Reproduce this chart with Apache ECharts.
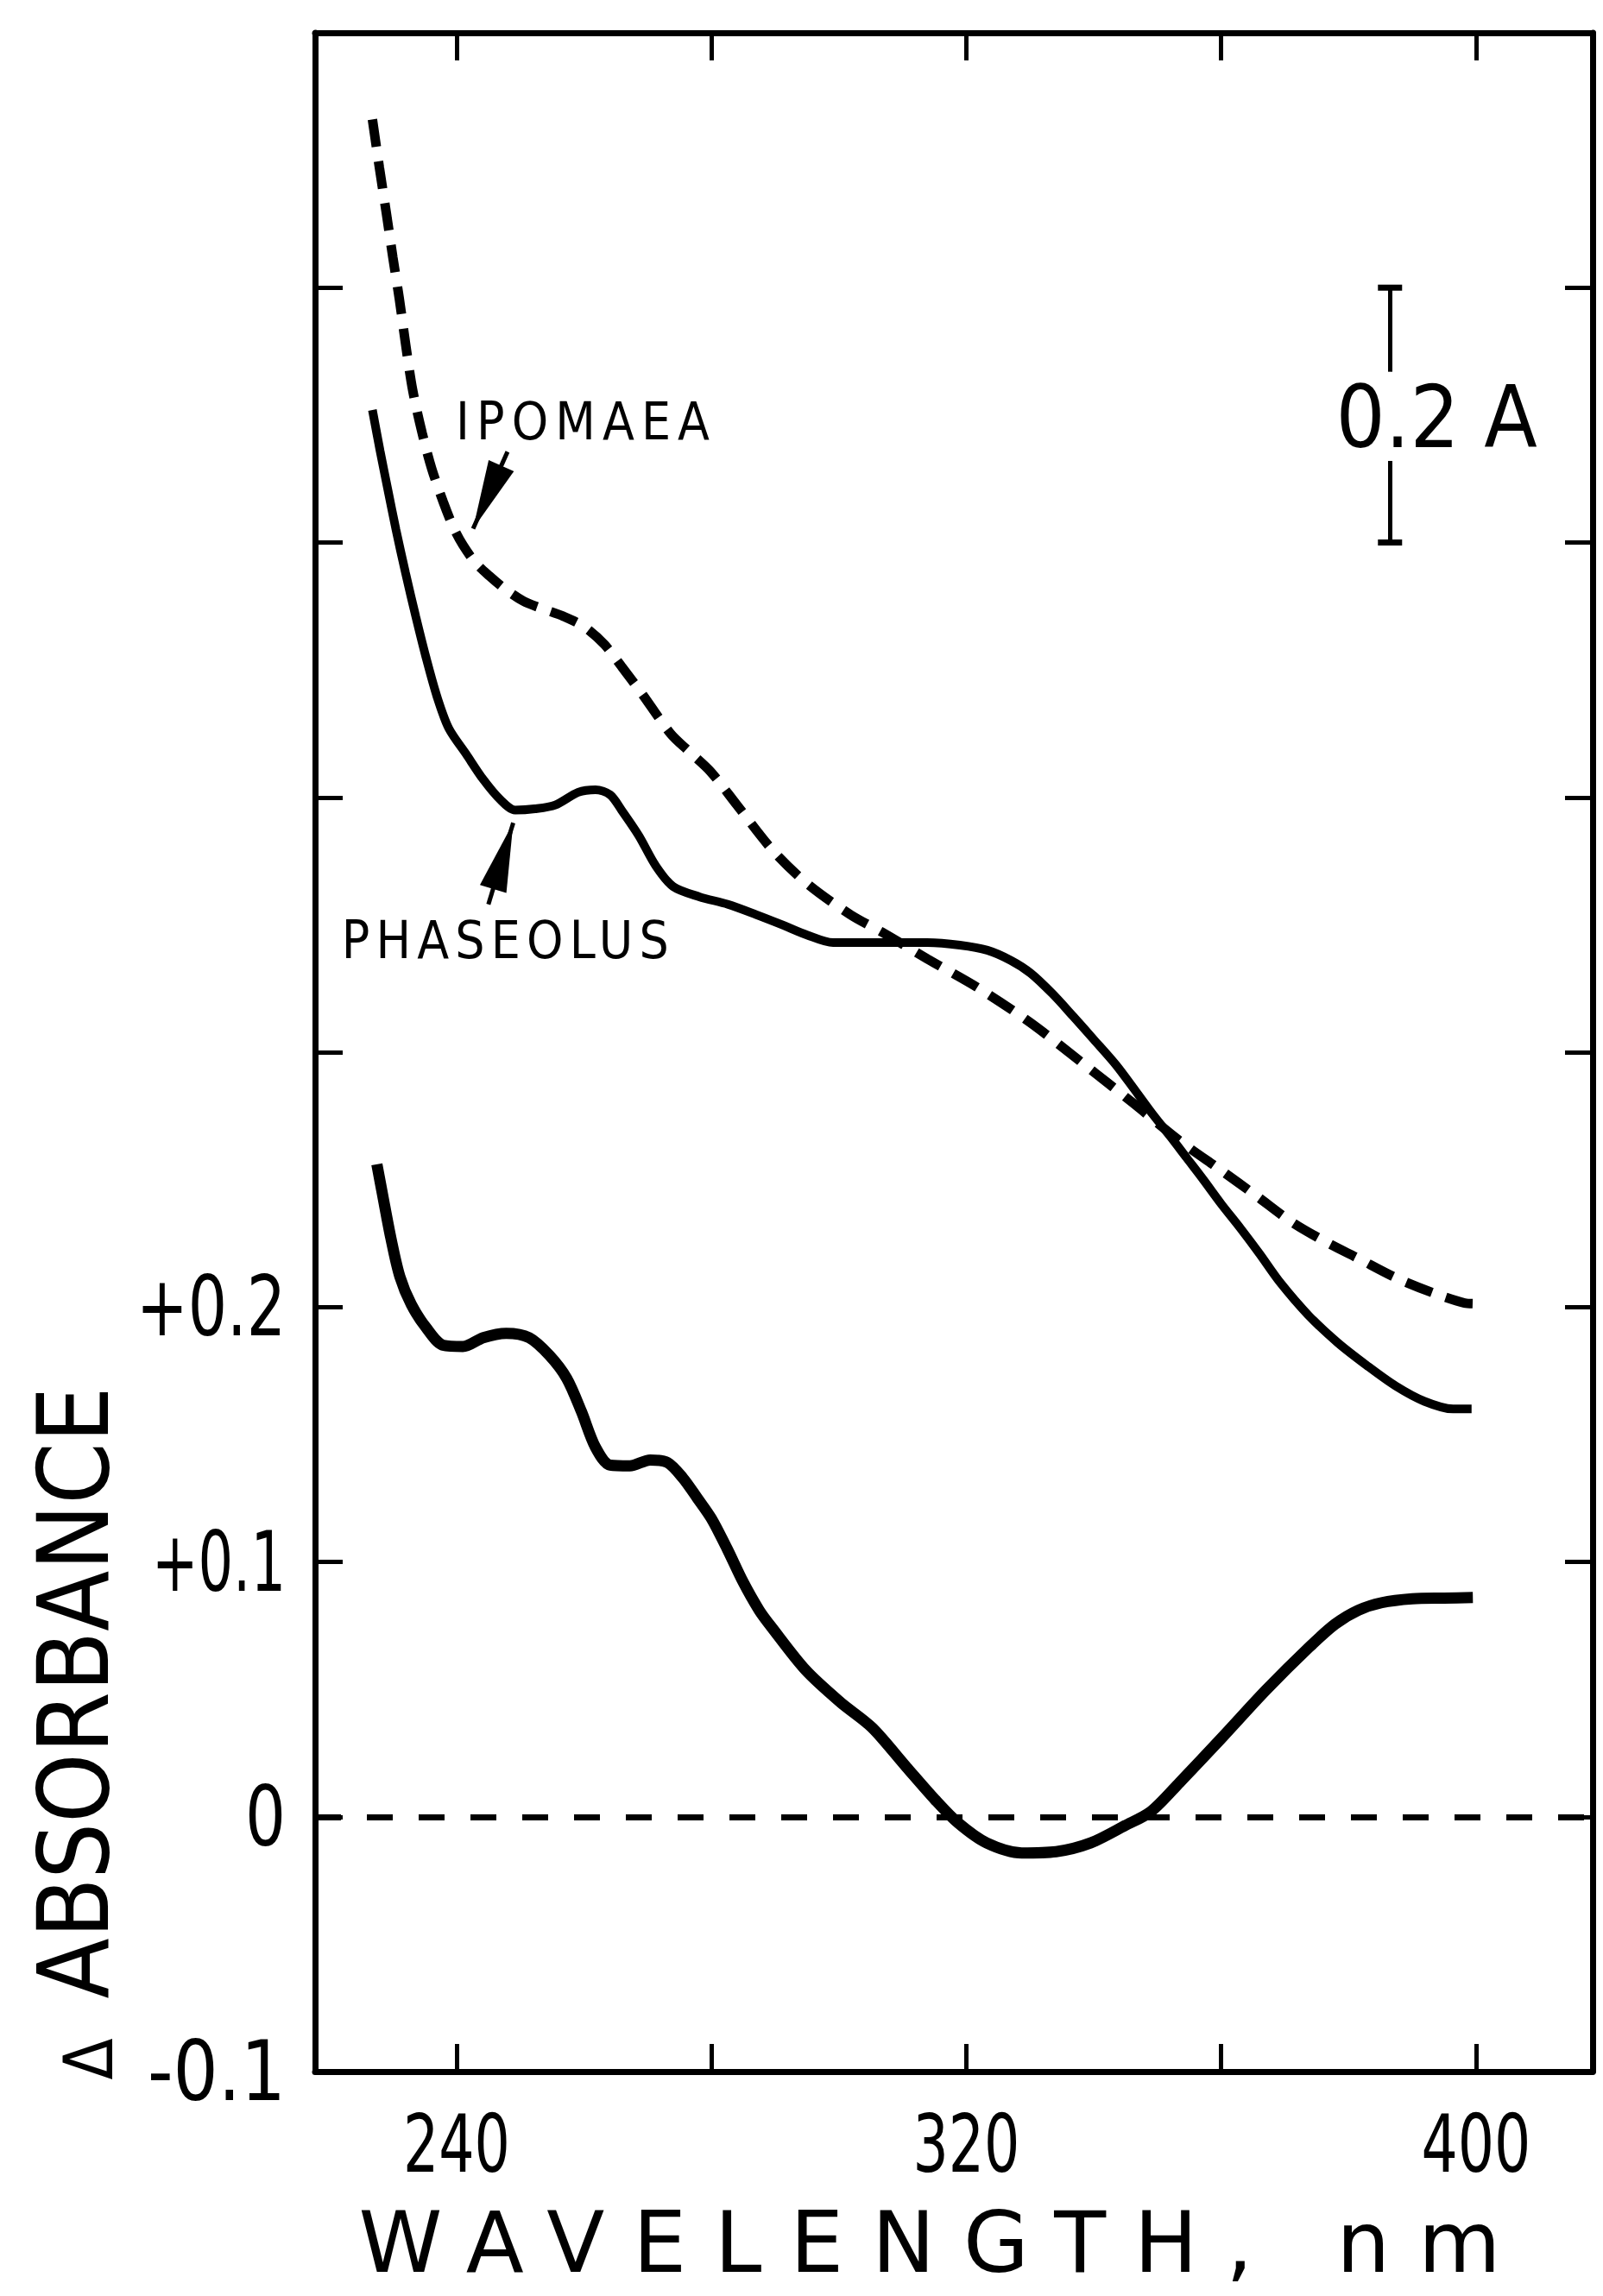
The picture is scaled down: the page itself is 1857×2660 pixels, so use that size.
<!DOCTYPE html>
<html>
<head>
<meta charset="utf-8">
<script src="https://cdn.jsdelivr.net/npm/echarts@6/dist/echarts.min.js"></script>
<style>
html, body { margin: 0; padding: 0; background: #ffffff; }
#chart { width: 1857px; height: 2660px; }
</style>
</head>
<body>
<div id="chart"></div>
<script>
// ---- tick values / labels ----
const xTickValues = [240, 280, 320, 360, 400];
const xLabelValues = [240, 320, 400];
const yLabelValues = [-0.1, 0, 0.1, 0.2];
const yLabelTexts = ['-0.1', '0', '+0.1', '+0.2'];
const xTitle = 'WAVELENGTH, nm';
const yTitle = 'ABSORBANCE';

// ---- series values: [wavelength nm, absorbance (plot units)] ----
const ipomaea = [
  [226.8,0.666],[227.9,0.647],[229.0,0.629],[230.0,0.612],[231.0,0.596],[232.0,0.578],
  [233.1,0.560],[234.6,0.543],[236.1,0.529],[237.9,0.516],[239.5,0.506],[241.0,0.499],
  [243.0,0.492],[245.1,0.487],[247.5,0.482],[250.5,0.477],[253.5,0.474],[256.8,0.471],
  [260.0,0.467],[263.2,0.460],[266.0,0.451],[269.0,0.441],[273.6,0.425],[276.5,0.418],
  [279.9,0.410],[284.0,0.397],[289.7,0.379],[295.1,0.366],[301.8,0.354],[307.2,0.3465],
  [313.9,0.3366],[322.0,0.325],[330.1,0.3115],[338.1,0.296],[346.2,0.280],[353.6,0.265],
  [359.9,0.2538],[365.5,0.2437],[371.0,0.2335],[376.4,0.2256],[381.5,0.2191],[387.4,0.2115],
  [393.3,0.2055],[398.2,0.2016],[400.0,0.2013]
];
const phaseolus = [
  [226.8,0.552],[228.0,0.536],[229.2,0.521],[230.5,0.505],[232.0,0.488],[233.6,0.471],
  [235.2,0.455],[237.0,0.439],[238.8,0.427],[241.5,0.417],[244.2,0.407],[246.9,0.399],
  [249.2,0.395],[252.3,0.3955],[255.5,0.397],[259.1,0.402],[261.8,0.403],[264.1,0.401],
  [265.9,0.395],[268.6,0.385],[271.3,0.373],[274.0,0.365],[278.1,0.361],[282.6,0.358],
  [287.0,0.354],[291.1,0.350],[295.0,0.346],[299.1,0.343],[306.0,0.343],[313.9,0.343],
  [319.0,0.342],[323.3,0.340],[327.0,0.336],[330.1,0.331],[333.5,0.323],[336.8,0.314],
  [340.0,0.305],[343.5,0.295],[346.5,0.285],[349.3,0.2755],[352.0,0.267],[354.6,0.2585],
  [357.2,0.250],[360.0,0.2405],[363.0,0.231],[366.0,0.221],[369.3,0.2095],[373.8,0.1965],
  [378.3,0.186],[382.9,0.177],[387.4,0.169],[391.9,0.163],[396.4,0.160],[399.3,0.160]
];
const difference = [
  [227.5,0.256],[228.4,0.244],[229.7,0.227],[231.1,0.212],[232.9,0.201],[235.2,0.192],
  [237.9,0.185],[241.0,0.1845],[244.2,0.188],[247.8,0.1897],[251.4,0.188],[254.6,0.181],
  [257.3,0.172],[259.6,0.159],[261.8,0.145],[264.1,0.138],[267.2,0.1377],[270.4,0.140],
  [273.1,0.139],[275.5,0.133],[277.8,0.125],[280.0,0.117],[282.5,0.105],[285.0,0.092],
  [287.5,0.081],[289.4,0.0745],[294.8,0.0575],[300.2,0.045],[305.2,0.035],[310.6,0.0195],
  [315.1,0.0067],[318.7,-0.0024],[323.2,-0.0103],[328.7,-0.0142],[334.1,-0.0137],[339.5,-0.0103],
  [344.9,-0.0035],[349.0,0.0021],[353.5,0.0135],[360.3,0.0315],[367.0,0.0496],[373.8,0.0665],
  [377.9,0.0756],[381.5,0.081],[385.2,0.084],[390.0,0.0855],[395.0,0.0858],[399.5,0.086]
];

// ---- annotation anchors (data coordinates) ----
const ipomaeaLabelAt = [259.8, 0.5475];
const phaseolusLabelAt = [247.65, 0.3439];
const ipomaeaArrow = [[248.0, 0.5356], [242.6, 0.5054]];
const phaseolusArrow = [[245.0, 0.358], [248.9, 0.390]];
const scaleBarX = 386.5;
const scaleBarEnds = [0.6, 0.567, 0.532, 0.5];
const scaleLabelAt = [393.8, 0.549];

const X_MIN = 217.8, X_MAX = 418.3, Y_MIN = -0.1, Y_MAX = 0.7;

// ---- text fitting (rendered widths, px) ----
const textFit = {
  'WAVELENGTH, nm': [1323, 'spacing'],
  'IPOMAEA': [294, 'spacing'],
  'PHASEOLUS': [379, 'spacing'],
  '240': [124, 'spacingAndGlyphs'],
  '320': [124, 'spacingAndGlyphs'],
  '400': [127, 'spacingAndGlyphs'],
  '+0.2': [173, 'spacingAndGlyphs'],
  '+0.1': [155, 'spacingAndGlyphs'],
  '0': [47, 'spacingAndGlyphs'],
  '-0.1': [160, 'spacingAndGlyphs']
};
const TITLE_BOTTOM = 2655;

const black = '#000000';
const labelFont = "'DejaVu Sans Condensed', 'DejaVu Sans', sans-serif";
const axisLine = { show: true, onZero: false, lineStyle: { color: black, width: 7 } };
const tickStyle = { show: true, inside: true, length: 32, lineStyle: { color: black, width: 5 } };
const arrowHead = 'path://M0,-4L0,-4M0,0L1,4L-1,4Z';

const chart = echarts.init(document.getElementById('chart'), null, { renderer: 'svg' });

chart.setOption({
  animation: false,
  backgroundColor: '#ffffff',
  grid: { left: 365, right: 12, top: 38, bottom: 260 },
  xAxis: [
    {
      type: 'value', position: 'bottom', min: X_MIN, max: X_MAX,
      axisLine: axisLine,
      axisTick: Object.assign({}, tickStyle, { customValues: xTickValues }),
      axisLabel: { customValues: xLabelValues, color: black, fontFamily: labelFont, fontSize: 92, lineHeight: 92, margin: 46 },
      splitLine: { show: false }
    },
    {
      type: 'value', position: 'top', min: X_MIN, max: X_MAX,
      axisLine: axisLine,
      axisTick: Object.assign({}, tickStyle, { customValues: xTickValues }),
      axisLabel: { show: false }, splitLine: { show: false }
    }
  ],
  yAxis: [
    {
      type: 'value', position: 'left', min: Y_MIN, max: Y_MAX, interval: 0.1,
      axisLine: axisLine, axisTick: tickStyle,
      axisLabel: {
        customValues: yLabelValues, color: black, fontFamily: labelFont, fontSize: 96, margin: 34,
        formatter: function (v) {
          for (let i = 0; i < yLabelValues.length; i++) {
            if (Math.abs(v - yLabelValues[i]) < 1e-9) return yLabelTexts[i];
          }
          return '';
        }
      },
      splitLine: { show: false }
    },
    {
      type: 'value', position: 'right', min: Y_MIN, max: Y_MAX, interval: 0.1,
      axisLine: axisLine, axisTick: tickStyle,
      axisLabel: { show: false }, splitLine: { show: false }
    }
  ],
  graphic: [
    {
      type: 'text', x: 82, y: 2008, rotation: Math.PI / 2,
      style: {
        text: '{d|Δ}{s| }{t|' + yTitle + '}',
        align: 'center', verticalAlign: 'middle', fill: black,
        rich: {
          d: { fontFamily: 'DejaVu Sans Condensed', fontSize: 78, fill: black, verticalAlign: 'bottom', lineHeight: 120 },
          s: { fontFamily: 'DejaVu Sans Condensed', fontSize: 78, width: 46, verticalAlign: 'bottom', lineHeight: 120 },
          t: { fontFamily: 'DejaVu Sans Condensed', fontSize: 114, fill: black, verticalAlign: 'bottom', lineHeight: 120 }
        }
      }
    },
    {
      type: 'text', x: 1077, y: 2590,
      style: {
        text: xTitle, align: 'center', verticalAlign: 'middle', fill: black,
        fontFamily: 'DejaVu Sans', fontSize: 98, lineHeight: 98
      }
    }
  ],
  series: [
    {
      type: 'line', name: 'IPOMAEA', data: ipomaea, symbol: 'none', smooth: 0.3,
      lineStyle: { color: black, width: 11, type: [32, 17], cap: 'butt' },
      z: 3, silent: true,
      markPoint: {
        silent: true, symbol: 'circle', symbolSize: 0,
        label: { show: true, position: 'inside', color: black, fontFamily: 'DejaVu Sans Condensed', fontSize: 60 },
        data: [
          { coord: ipomaeaLabelAt, value: 0, label: { formatter: 'IPOMAEA' } },
          { coord: phaseolusLabelAt, value: 0, label: { formatter: 'PHASEOLUS' } },
          { coord: scaleLabelAt, value: 0, label: { formatter: '0.2 A', fontFamily: 'DejaVu Sans Condensed', fontSize: 100 } }
        ]
      },
      markLine: {
        silent: true, animation: false,
        lineStyle: { color: black, width: 5, type: 'solid' },
        itemStyle: { color: black },
        label: { show: false },
        symbol: ['none', 'none'],
        data: [
          [ { coord: ipomaeaArrow[0], symbol: 'none' },
            { coord: ipomaeaArrow[1], symbol: arrowHead, symbolSize: [32, 160] } ],
          [ { coord: phaseolusArrow[0], symbol: 'none' },
            { coord: phaseolusArrow[1], symbol: arrowHead, symbolSize: [32, 160] } ],
          [ { coord: [scaleBarX, scaleBarEnds[0]], symbol: 'rect', symbolSize: [28, 7] },
            { coord: [scaleBarX, scaleBarEnds[1]], symbol: 'none' } ],
          [ { coord: [scaleBarX, scaleBarEnds[2]], symbol: 'none' },
            { coord: [scaleBarX, scaleBarEnds[3]], symbol: 'rect', symbolSize: [28, 7] } ]
        ]
      }
    },
    {
      type: 'line', name: 'PHASEOLUS', data: phaseolus, symbol: 'none', smooth: 0.3,
      lineStyle: { color: black, width: 10 }, z: 3, silent: true
    },
    {
      type: 'line', name: 'Δ ABSORBANCE', data: difference, symbol: 'none', smooth: 0.3,
      lineStyle: { color: black, width: 13 }, z: 3, silent: true,
      markLine: {
        silent: true, animation: false, symbol: ['none', 'none'],
        lineStyle: { color: black, width: 7, type: [30, 30] },
        label: { show: false },
        data: [ { yAxis: 0 } ]
      }
    }
  ]
});

function shiftY(el, dy) {
  if (!isFinite(dy) || Math.abs(dy) < 0.5) return;
  const y = parseFloat(el.getAttribute('y') || '0');
  el.setAttribute('y', String(y + dy));
}

function layoutTexts() {
  const texts = Array.prototype.slice.call(document.querySelectorAll('#chart svg text'));
  texts.forEach(function (t) {
    const f = textFit[t.textContent];
    if (f) {
      t.setAttribute('textLength', f[0]);
      t.setAttribute('lengthAdjust', f[1]);
    }
  });
  const title = texts.find(function (t) { return t.textContent === xTitle; });
  if (!title) return;
  shiftY(title, TITLE_BOTTOM - title.getBoundingClientRect().bottom);
  const titleTop = title.getBoundingClientRect().top;
  xLabelValues.forEach(function (v) {
    const lab = texts.find(function (t) { return t.textContent === String(v); });
    if (lab) {
      const b = lab.getBoundingClientRect().bottom;
      if (b > titleTop - 3) shiftY(lab, titleTop - 3 - b);
    }
  });
}
layoutTexts();
chart.on('finished', layoutTexts);
</script>
</body>
</html>
